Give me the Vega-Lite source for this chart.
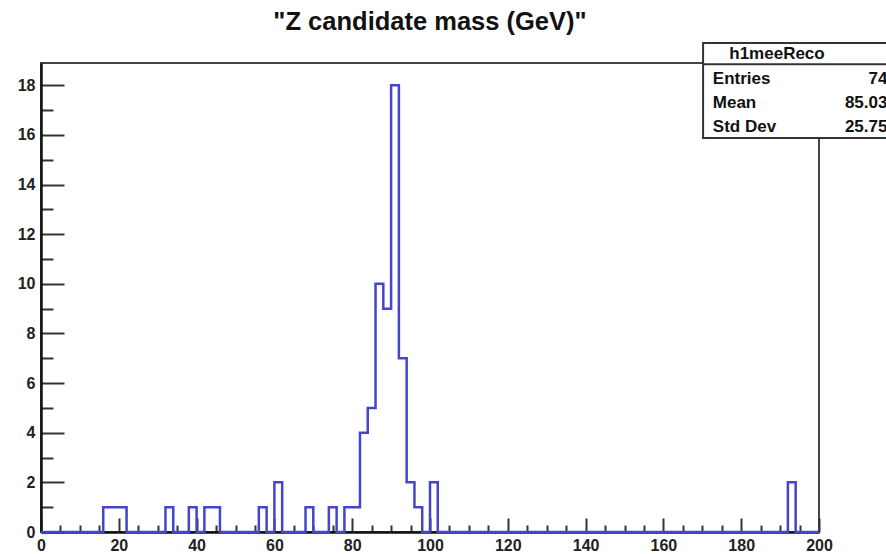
{
  "$schema": "https://vega.github.io/schema/vega-lite/v6.json",
  "width": 778,
  "height": 469,
  "autosize": {"type": "none"},
  "padding": {"left": 41, "top": 63, "right": 67, "bottom": 22},
  "background": "white",
  "title": {
    "text": "\"Z candidate mass (GeV)\"",
    "font": "Liberation Sans",
    "fontSize": 25.5,
    "fontWeight": "bold",
    "color": "#111",
    "anchor": "middle",
    "frame": "group",
    "baseline": "alphabetic",
    "offset": -14
  },
  "config": {
    "view": {"stroke": "#444", "strokeWidth": 2},
    "axis": {
      "domainColor": "#111",
      "domainWidth": 2.5,
      "tickColor": "#333",
      "tickWidth": 2,
      "labelFont": "Liberation Sans",
      "labelFontSize": 16,
      "labelFontWeight": "bold",
      "labelColor": "#222",
      "grid": false,
      "labelFlush": false,
      "labelOverlap": false,
      "title": null
    }
  },
  "layer": [
    {
      "data": {
        "values": [
          {"lo": 0, "n": 0}, {"lo": 2, "n": 0}, {"lo": 4, "n": 0}, {"lo": 6, "n": 0}, {"lo": 8, "n": 0},
          {"lo": 10, "n": 0}, {"lo": 12, "n": 0}, {"lo": 14, "n": 0}, {"lo": 16, "n": 1}, {"lo": 18, "n": 1},
          {"lo": 20, "n": 1}, {"lo": 22, "n": 0}, {"lo": 24, "n": 0}, {"lo": 26, "n": 0}, {"lo": 28, "n": 0},
          {"lo": 30, "n": 0}, {"lo": 32, "n": 1}, {"lo": 34, "n": 0}, {"lo": 36, "n": 0}, {"lo": 38, "n": 1},
          {"lo": 40, "n": 0}, {"lo": 42, "n": 1}, {"lo": 44, "n": 1}, {"lo": 46, "n": 0}, {"lo": 48, "n": 0},
          {"lo": 50, "n": 0}, {"lo": 52, "n": 0}, {"lo": 54, "n": 0}, {"lo": 56, "n": 1}, {"lo": 58, "n": 0},
          {"lo": 60, "n": 2}, {"lo": 62, "n": 0}, {"lo": 64, "n": 0}, {"lo": 66, "n": 0}, {"lo": 68, "n": 1},
          {"lo": 70, "n": 0}, {"lo": 72, "n": 0}, {"lo": 74, "n": 1}, {"lo": 76, "n": 0}, {"lo": 78, "n": 1},
          {"lo": 80, "n": 1}, {"lo": 82, "n": 4}, {"lo": 84, "n": 5}, {"lo": 86, "n": 10}, {"lo": 88, "n": 9},
          {"lo": 90, "n": 18}, {"lo": 92, "n": 7}, {"lo": 94, "n": 2}, {"lo": 96, "n": 1}, {"lo": 98, "n": 0},
          {"lo": 100, "n": 2}, {"lo": 102, "n": 0}, {"lo": 104, "n": 0}, {"lo": 106, "n": 0}, {"lo": 108, "n": 0},
          {"lo": 110, "n": 0}, {"lo": 112, "n": 0}, {"lo": 114, "n": 0}, {"lo": 116, "n": 0}, {"lo": 118, "n": 0},
          {"lo": 120, "n": 0}, {"lo": 122, "n": 0}, {"lo": 124, "n": 0}, {"lo": 126, "n": 0}, {"lo": 128, "n": 0},
          {"lo": 130, "n": 0}, {"lo": 132, "n": 0}, {"lo": 134, "n": 0}, {"lo": 136, "n": 0}, {"lo": 138, "n": 0},
          {"lo": 140, "n": 0}, {"lo": 142, "n": 0}, {"lo": 144, "n": 0}, {"lo": 146, "n": 0}, {"lo": 148, "n": 0},
          {"lo": 150, "n": 0}, {"lo": 152, "n": 0}, {"lo": 154, "n": 0}, {"lo": 156, "n": 0}, {"lo": 158, "n": 0},
          {"lo": 160, "n": 0}, {"lo": 162, "n": 0}, {"lo": 164, "n": 0}, {"lo": 166, "n": 0}, {"lo": 168, "n": 0},
          {"lo": 170, "n": 0}, {"lo": 172, "n": 0}, {"lo": 174, "n": 0}, {"lo": 176, "n": 0}, {"lo": 178, "n": 0},
          {"lo": 180, "n": 0}, {"lo": 182, "n": 0}, {"lo": 184, "n": 0}, {"lo": 186, "n": 0}, {"lo": 188, "n": 0},
          {"lo": 190, "n": 0}, {"lo": 192, "n": 2}, {"lo": 194, "n": 0}, {"lo": 196, "n": 0}, {"lo": 198, "n": 0},
          {"lo": 200, "n": 0}
        ]
      },
      "mark": {"type": "line", "interpolate": "step-after", "color": "#4444cc", "strokeWidth": 2.5},
      "encoding": {
        "x": {
          "field": "lo",
          "type": "quantitative",
          "scale": {"domain": [0, 200], "nice": false, "zero": false},
          "axis": {
            "values": [0,5,10,15,20,25,30,35,40,45,50,55,60,65,70,75,80,85,90,95,100,105,110,115,120,125,130,135,140,145,150,155,160,165,170,175,180,185,190,195,200],
            "tickCount": 200,
            "format": "d",
            "labelExpr": "datum.value % 20 === 0 ? datum.label : ''",
            "tickSize": {"condition": {"test": "datum.value % 20 === 0", "value": -14}, "value": -7},
            "labelPadding": 19
          }
        },
        "y": {
          "field": "n",
          "type": "quantitative",
          "scale": {"domain": [0, 18.9], "nice": false},
          "axis": {
            "values": [0,0.5,1,1.5,2,2.5,3,3.5,4,4.5,5,5.5,6,6.5,7,7.5,8,8.5,9,9.5,10,10.5,11,11.5,12,12.5,13,13.5,14,14.5,15,15.5,16,16.5,17,17.5,18,18.5],
            "tickCount": 200,
            "format": "d",
            "labelExpr": "datum.value % 2 === 0 ? datum.label : ''",
            "tickSize": {"condition": {"test": "datum.value % 2 === 0", "value": -23}, "value": -12},
            "labelPadding": 29
          }
        }
      }
    },
    {
      "data": {"values": [{"box": "h1meeReco"}]},
      "mark": {"type": "rect", "fill": "white", "stroke": "#333", "strokeWidth": 2},
      "encoding": {
        "x": {"datum": 170.2, "type": "quantitative"},
        "x2": {"datum": 235},
        "y": {"datum": 19.71, "type": "quantitative"},
        "y2": {"datum": 15.88}
      }
    },
    {
      "data": {"values": [{"box": "h1meeReco"}]},
      "mark": {"type": "rule", "stroke": "#333", "strokeWidth": 2},
      "encoding": {
        "x": {"datum": 170.2, "type": "quantitative"},
        "x2": {"datum": 235},
        "y": {"datum": 18.85, "type": "quantitative"}
      }
    },
    {
      "data": {"values": [{"box": "h1meeReco"}]},
      "mark": {"type": "text", "font": "Liberation Sans", "fontSize": 17, "fontWeight": "bold", "color": "#111", "align": "center", "baseline": "middle"},
      "encoding": {
        "x": {"datum": 189.2, "type": "quantitative"},
        "y": {"datum": 19.25, "type": "quantitative"},
        "text": {"field": "box"}
      }
    },
    {
      "data": {"values": [{"name": "Entries", "value": "74"}]},
      "layer": [
        {
          "mark": {"type": "text", "font": "Liberation Sans", "fontSize": 17, "fontWeight": "bold", "color": "#111", "align": "left", "baseline": "middle"},
          "encoding": {"x": {"datum": 172.7, "type": "quantitative"}, "y": {"datum": 18.26, "type": "quantitative"}, "text": {"field": "name"}}
        },
        {
          "mark": {"type": "text", "font": "Liberation Sans", "fontSize": 17, "fontWeight": "bold", "color": "#111", "align": "right", "baseline": "middle"},
          "encoding": {"x": {"datum": 217.6, "type": "quantitative"}, "y": {"datum": 18.26, "type": "quantitative"}, "text": {"field": "value"}}
        }
      ]
    },
    {
      "data": {"values": [{"name": "Mean", "value": "85.03"}]},
      "layer": [
        {
          "mark": {"type": "text", "font": "Liberation Sans", "fontSize": 17, "fontWeight": "bold", "color": "#111", "align": "left", "baseline": "middle"},
          "encoding": {"x": {"datum": 172.7, "type": "quantitative"}, "y": {"datum": 17.29, "type": "quantitative"}, "text": {"field": "name"}}
        },
        {
          "mark": {"type": "text", "font": "Liberation Sans", "fontSize": 17, "fontWeight": "bold", "color": "#111", "align": "right", "baseline": "middle"},
          "encoding": {"x": {"datum": 217.6, "type": "quantitative"}, "y": {"datum": 17.29, "type": "quantitative"}, "text": {"field": "value"}}
        }
      ]
    },
    {
      "data": {"values": [{"name": "Std Dev", "value": "25.75"}]},
      "layer": [
        {
          "mark": {"type": "text", "font": "Liberation Sans", "fontSize": 17, "fontWeight": "bold", "color": "#111", "align": "left", "baseline": "middle"},
          "encoding": {"x": {"datum": 172.7, "type": "quantitative"}, "y": {"datum": 16.32, "type": "quantitative"}, "text": {"field": "name"}}
        },
        {
          "mark": {"type": "text", "font": "Liberation Sans", "fontSize": 17, "fontWeight": "bold", "color": "#111", "align": "right", "baseline": "middle"},
          "encoding": {"x": {"datum": 217.6, "type": "quantitative"}, "y": {"datum": 16.32, "type": "quantitative"}, "text": {"field": "value"}}
        }
      ]
    }
  ]
}
